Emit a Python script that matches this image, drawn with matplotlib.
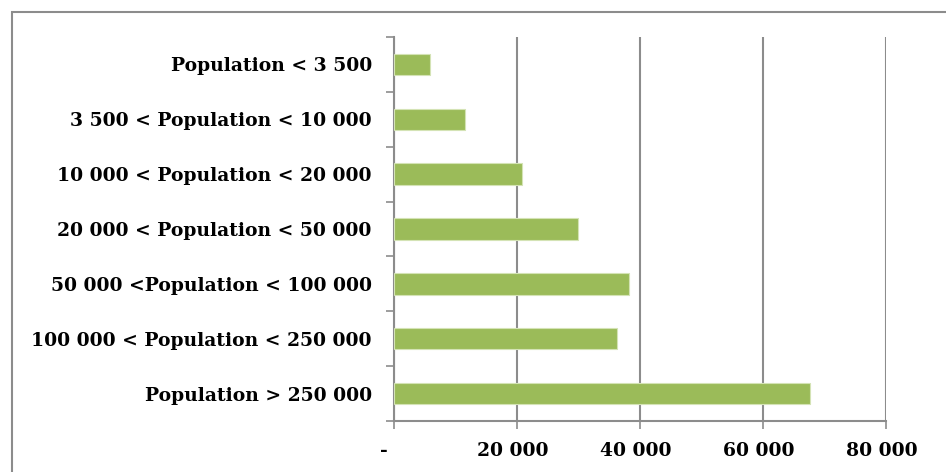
import matplotlib
matplotlib.use('Agg')
import matplotlib.pyplot as plt
import matplotlib.transforms as mtransforms
from matplotlib.patches import Rectangle

categories = ['Population < 3 500', '3 500 < Population < 10 000',
              '10 000 < Population < 20 000', '20 000 < Population < 50 000',
              '50 000 <Population < 100 000', '100 000 < Population < 250 000',
              'Population > 250 000']
values = [5850, 11600, 20800, 29900, 38200, 36300, 67600]
xticks = [0, 20000, 40000, 60000, 80000]
xlabels = ['-', '20 000', '40 000', '60 000', '80 000']

green = '#9bbb59'
grey = '#8c8c8c'

plt.rcParams['font.family'] = ['DejaVu Serif']
plt.rcParams['font.weight'] = 'bold'

fig = plt.figure(figsize=(9.46, 4.72), dpi=100)
# outer chart border (only top and left show in the crop)
fig.patches.append(Rectangle((12/946, -0.1), 2, 1.1 - 12/472, transform=fig.transFigure,
                             fill=False, edgecolor=grey, linewidth=1.5))

ax = fig.add_axes([394/946, 51/472, 492/946, 384/472])
pos = list(range(len(categories)))
ax.barh(pos, values, height=0.39, color=green, edgecolor='#d4e3b5', linewidth=0.8, zorder=3)

ax.set_xlim(0, 80000)
ax.set_ylim(len(categories) - 0.5, -0.5)
ax.set_xticks(xticks)
ax.set_xticklabels(xlabels, fontsize=13.5, fontweight='bold')
ax.set_yticks([i - 0.5 for i in range(len(categories) + 1)])
ax.set_yticklabels([])
ax.set_yticks(pos, minor=True)
ax.set_yticklabels(categories, minor=True, fontsize=13.5, fontweight='bold')
ax.tick_params(axis='y', which='major', length=6, width=1.2, color=grey, direction='out')
ax.tick_params(axis='y', which='minor', length=0, pad=16)
ax.tick_params(axis='x', length=6, width=1.2, color=grey, direction='out', pad=9)

# accounting-style labels sit a bit left of their ticks, the "-" even more
for i, lab in enumerate(ax.get_xticklabels()):
    dx = -10 if i == 0 else -4
    lab.set_transform(lab.get_transform() + mtransforms.ScaledTranslation(dx/100, 0, fig.dpi_scale_trans))

ax.grid(axis='x', color=grey, linewidth=1.5, zorder=0)
for s in ['top', 'right']:
    ax.spines[s].set_visible(False)
for s in ['left', 'bottom']:
    ax.spines[s].set_color(grey)
    ax.spines[s].set_linewidth(1.5)

fig.savefig('out.png', dpi=100)
